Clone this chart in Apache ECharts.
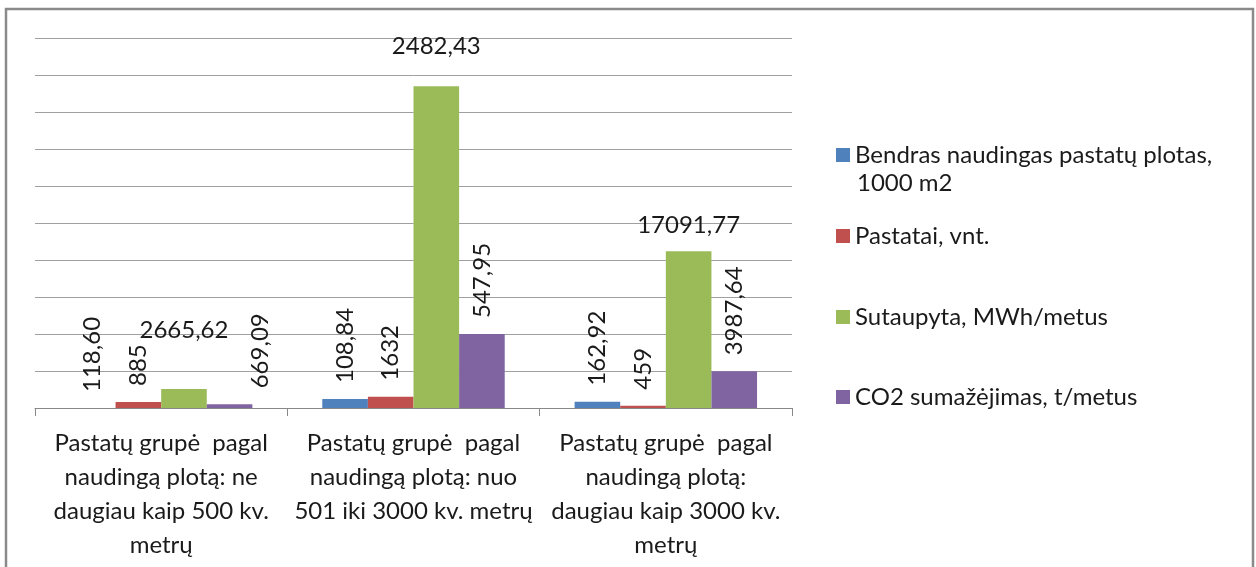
<!DOCTYPE html>
<html>
<head>
<meta charset="utf-8">
<script src="https://cdn.jsdelivr.net/npm/echarts@6/dist/echarts.min.js"></script>
<style>
html,body{margin:0;padding:0;background:#fff;}
#c{width:1256px;height:567px;}
</style>
</head>
<body>
<div id="c"></div>
<script>
// ---- data ----
const categories = [
  'Pastatų grupė  pagal\nnaudingą plotą: ne\ndaugiau kaip 500 kv.\nmetrų',
  'Pastatų grupė  pagal\nnaudingą plotą: nuo\n501 iki 3000 kv. metrų',
  'Pastatų grupė  pagal\nnaudingą plotą:\ndaugiau kaip 3000 kv.\nmetrų'
];
const seriesNames = [
  'Bendras naudingas pastatų plotas,',
  'Pastatai, vnt.',
  'Sutaupyta, MWh/metus',
  'CO2 sumažėjimas, t/metus'
];
const legendSecondLine = '1000 m2';
// bar heights as drawn
const plotas = [0, 1216, 851];
const pastatai = [811, 1527, 311];
const sutaupyta = [2567, 43470, 21170];
const co2 = [500, 10000, 4960];
// data label texts as printed on the chart
const plotasLabels = ['118,60', '108,84', '162,92'];
const pastataiLabels = ['885', '1632', '459'];
const sutaupytaLabels = ['2665,62', '2482,43', '17091,77'];
const co2Labels = ['669,09', '547,95', '3987,64'];
const yTicks = { min: 0, max: 50000, interval: 5000 };

// ---- styling ----
const colors = ['#4F81BD', '#C0504D', '#9BBB59', '#8064A2'];
const FONT = 'Lato';
const txt = '#1a1a1a';
const greenShift = [[0, -43], [0, -24], [0, -10]];
const co2Shift = [[0, 31], [0, 0], [0, 0]];

const values = [plotas, pastatai, sutaupyta, co2];
const labels = [plotasLabels, pastataiLabels, sutaupytaLabels, co2Labels];

function makeSeries(k) {
  const vertical = k !== 2;
  return {
    name: seriesNames[k],
    type: 'bar',
    barGap: '0%',
    barCategoryGap: '27.7%',
    itemStyle: { color: colors[k] },
    data: values[k].map((v, i) => {
      const item = { value: v };
      if (k === 2) item.label = { offset: greenShift[i] };
      if (k === 3) item.label = { offset: co2Shift[i] };
      return item;
    }),
    label: vertical ? {
      show: true, position: 'top', rotate: 90, distance: 16,
      align: 'left', verticalAlign: 'middle',
      fontFamily: FONT, fontSize: 24, color: txt,
      formatter: p => labels[k][p.dataIndex]
    } : {
      show: true, position: 'top', distance: 5,
      fontFamily: FONT, fontSize: 24, lineHeight: 22, color: txt,
      formatter: p => labels[k][p.dataIndex]
    }
  };
}

const legendTops = [142, 223, 304, 384];
const legends = seriesNames.map((n, k) => ({
  data: [n], orient: 'vertical', left: 836, top: legendTops[k], padding: 0,
  itemWidth: 14, itemHeight: 14, selectedMode: false,
  icon: 'rect',
  textStyle: { fontFamily: FONT, fontSize: 24, lineHeight: 26, color: txt }
}));

const chart = echarts.init(document.getElementById('c'), null, { renderer: 'canvas' });
chart.setOption({
  animation: false,
  backgroundColor: '#fff',
  color: colors,
  grid: { left: 35, right: 464, top: 38, bottom: 159, containLabel: false },
  legend: legends,
  xAxis: {
    type: 'category', data: categories,
    axisLine: { lineStyle: { color: '#888', width: 1 } },
    axisTick: { show: true, length: 8, lineStyle: { color: '#888' } },
    axisLabel: {
      interval: 0, margin: 18, fontFamily: FONT, fontSize: 24, lineHeight: 34,
      color: txt, align: 'center'
    }
  },
  yAxis: {
    type: 'value', min: yTicks.min, max: yTicks.max, interval: yTicks.interval,
    axisLine: { show: false }, axisTick: { show: false }, axisLabel: { show: false },
    splitLine: { lineStyle: { color: '#a0a0a0', width: 1 } }
  },
  series: [0, 1, 2, 3].map(makeSeries),
  graphic: [
    { type: 'rect', shape: { x: 6, y: 9, width: 1247, height: 600 },
      style: { fill: 'none', stroke: '#8a8a8a', lineWidth: 2.5 }, silent: true },
    { type: 'text', left: 857, top: 171,
      style: { text: legendSecondLine, font: '24px Lato', fill: txt } }
  ]
});
</script>
</body>
</html>
